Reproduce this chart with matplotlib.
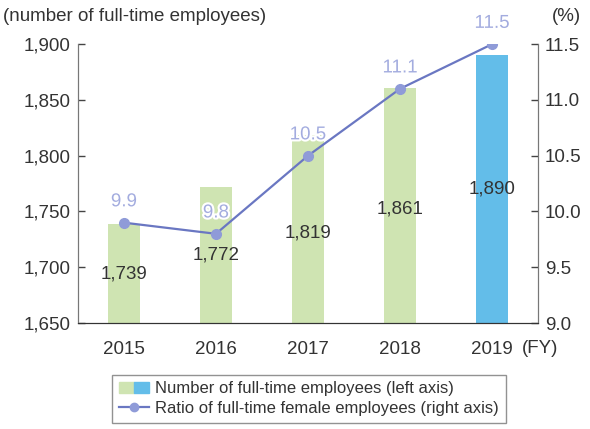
"""
Full-time employees (bars, left axis) vs. ratio of full-time female
employees (line, right axis), FY2015-2019.
"""
import matplotlib
matplotlib.use("Agg")
import matplotlib.pyplot as plt
import matplotlib.patheffects as pe
from matplotlib.patches import Patch
from matplotlib.lines import Line2D
from matplotlib.legend_handler import HandlerTuple

plt.rcParams["font.family"] = ["Liberation Sans", "DejaVu Sans"]

years = ["2015", "2016", "2017", "2018", "2019"]
employees = [1739, 1772, 1819, 1861, 1890]
employee_labels = ["1,739", "1,772", "1,819", "1,861", "1,890"]
female_ratio = [9.9, 9.8, 10.5, 11.1, 11.5]
left_ticks = [1650, 1700, 1750, 1800, 1850, 1900]
right_ticks = [9.0, 9.5, 10.0, 10.5, 11.0, 11.5]

# where the bar value labels sit (left-axis units)
label_y = [1694, 1711, 1731, 1752, 1770]

GREEN = "#cfe4b2"
BLUE = "#63bde9"
LINE = "#6a77c2"
MARKER = "#8f9bd8"
RATIO_TXT = "#a3acdf"
TXT = "#333333"
FS = 13.5

fig = plt.figure(figsize=(5.9, 4.29), dpi=100)
ax = fig.add_axes([0.132, 0.247, 0.780, 0.650])

x = list(range(len(years)))
bar_colors = [GREEN] * (len(years) - 1) + [BLUE]
ax.bar(x, employees, width=0.34, color=bar_colors, zorder=1)
ax.set_ylim(1650, 1900)
ax.set_xlim(-0.5, 4.5)
ax.set_yticks(left_ticks)
ax.set_yticklabels([f"{v:,}" for v in left_ticks])
ax.set_xticks(x)
ax.set_xticklabels(years)

for xi, ly, txt in zip(x, label_y, employee_labels):
    ax.text(xi, ly, txt, ha="center", va="center", fontsize=FS, color=TXT, zorder=3)

ax2 = ax.twinx()
ax2.plot(x, female_ratio, color=LINE, lw=1.6, marker="o", ms=7,
         mfc=MARKER, mec=MARKER, zorder=4)
ax2.set_ylim(9.0, 11.5)
ax2.set_yticks(right_ticks)
ax2.set_yticklabels([f"{v:.1f}" for v in right_ticks])

for xi, v in zip(x, female_ratio):
    t = ax2.annotate(f"{v:.1f}", (xi, v), xytext=(0, 15), textcoords="offset points",
                     ha="center", va="center", fontsize=FS, color=RATIO_TXT, zorder=5)
    t.set_path_effects([pe.withStroke(linewidth=3, foreground="white")])

for a in (ax, ax2):
    a.spines["top"].set_visible(False)
    a.spines["left"].set_color("#777777")
    a.spines["right"].set_color("#777777")
    a.spines["bottom"].set_color("#333333")
    a.tick_params(axis="y", direction="in", length=5, width=1, color="#444444",
                  labelsize=FS, labelcolor=TXT, pad=5)
    a.tick_params(axis="x", length=0, labelsize=FS, labelcolor=TXT, pad=13)

fig.text(0.005, 0.962, "(number of full-time employees)", fontsize=FS, color=TXT,
         ha="left", va="center")
fig.text(0.985, 0.962, "(%)", fontsize=FS, color=TXT, ha="right", va="center")
fig.text(0.885, 0.188, "(FY)", fontsize=FS, color=TXT, ha="left", va="center")

bar_handle = (Patch(color=GREEN), Patch(color=BLUE))
line_handle = Line2D([], [], color=LINE, lw=1.6, marker="o", ms=6, mfc=MARKER, mec=MARKER)
leg = fig.legend([bar_handle, line_handle],
                 ["Number of full-time employees (left axis)",
                  "Ratio of full-time female employees (right axis)"],
                 handler_map={tuple: HandlerTuple(ndivide=None, pad=0)},
                 loc="lower left", bbox_to_anchor=(0.19, 0.014), borderaxespad=0,
                 fontsize=12, frameon=True, fancybox=False, edgecolor="#777777",
                 handlelength=1.8, handletextpad=0.4, labelspacing=0.3,
                 borderpad=0.4, labelcolor=TXT)
leg.get_frame().set_linewidth(1)

fig.savefig("out.png", dpi=100)
